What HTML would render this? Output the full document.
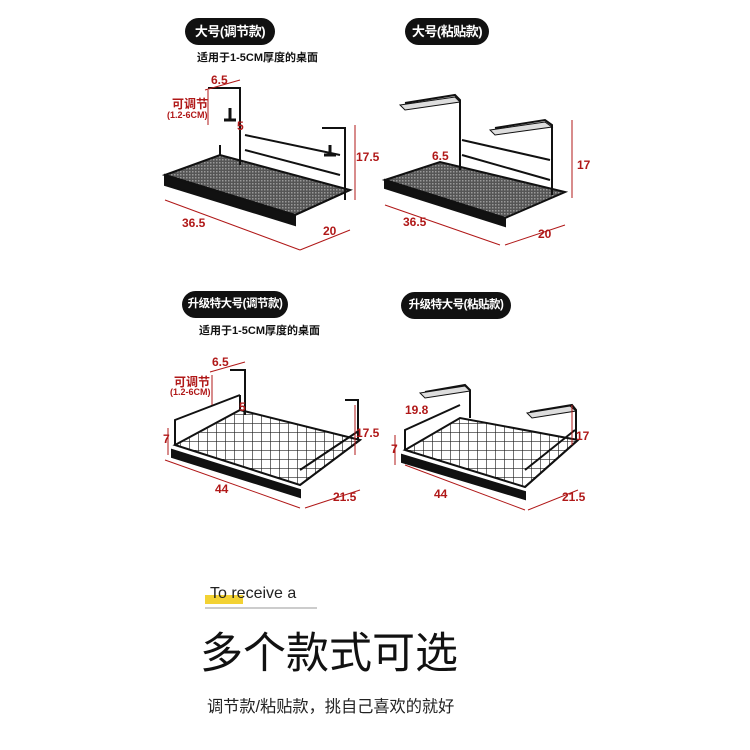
<!DOCTYPE html>
<html><head><meta charset="utf-8"><style>
body{margin:0;background:#fff;width:750px;height:750px;position:relative;overflow:hidden;font-family:"Liberation Sans","Noto Sans CJK SC",sans-serif}
.a{position:absolute;white-space:nowrap}
.pill{position:absolute;background:#111;color:#fff;border-radius:14px;font-weight:bold;font-size:13px;text-align:center;line-height:27px;height:27px;white-space:nowrap;letter-spacing:-0.5px}
.r{color:#b01818;font-weight:bold;font-size:12px}
.k{font-size:11px;color:#111;font-weight:bold}
svg{position:absolute;left:0;top:0}
</style></head><body>
<svg width="750" height="750" viewBox="0 0 750 750">
<defs><pattern id="m" width="3" height="3" patternUnits="userSpaceOnUse"><rect width="3" height="3" fill="#555"/><rect width="1.5" height="1.5" fill="#999"/></pattern>
<pattern id="g" width="9" height="9" patternUnits="userSpaceOnUse"><path d="M0 0H9M0 0V9" stroke="#222" stroke-width="1.3" fill="none"/></pattern></defs>
<g stroke="#111" fill="none" stroke-width="2">
<polygon points="165,175 220,155 350,190 295,215" fill="url(#m)"/>
<polygon points="165,175 165,185 295,225 295,215" fill="#111"/>
<line x1="220" y1="155" x2="220" y2="145"/><line x1="295" y1="215" x2="350" y2="190"/>
<path d="M208,88 H240 V165 M322,128 H345 V200 M245,135 L340,155 M245,150 L340,175"/>
<path d="M230,108 V120 M224,120h12 M330,145v10 M324,155h12" stroke-width="3"/>
<polygon points="385,180 440,162 565,192 505,218" fill="url(#m)"/>
<polygon points="385,180 385,188 505,226 505,218" fill="#111"/>
<path d="M405,103 L455,95 L460,100 V170 M495,128 L545,120 L552,125 V195 M462,140 L550,160 M462,155 L550,180"/>
<polygon points="400,105 455,97 460,102 405,110" fill="#ddd" stroke-width="1"/>
<polygon points="490,130 545,122 552,127 495,135" fill="#ddd" stroke-width="1"/>
<polygon points="175,445 240,410 360,440 300,485" fill="url(#g)"/>
<polygon points="172,450 300,490 300,497 172,457" fill="#111"/>
<path d="M175,445 V420 L240,395 M300,485 L360,440 M300,470 L360,430 M240,410 V395"/>
<path d="M230,370 H245 V415 M345,400 H358 V440"/>
<polygon points="405,450 460,418 578,440 525,487" fill="url(#g)"/>
<polygon points="402,455 525,492 525,499 402,462" fill="#111"/>
<path d="M405,450 V430 L460,405 M525,487 L578,440 M525,470 L575,430"/>
<path d="M425,392 L465,385 L470,390 V418 M530,412 L572,405 L576,410 V440"/>
<polygon points="420,393 465,386 470,391 425,398" fill="#ddd" stroke-width="1"/>
<polygon points="527,413 570,406 576,411 532,418" fill="#ddd" stroke-width="1"/>
</g>
<g stroke="#b01818" stroke-width="1" fill="none">
<path d="M165,200 L300,250 M300,250 L350,230 M355,125 V200 M205,90 L240,80 M208,90 V125"/>
<path d="M385,205 L500,245 M505,245 L565,225 M572,120 V198"/>
<path d="M165,460 L300,508 M305,508 L360,490 M355,405 V455 M168,428 V455 M210,372 L245,362 M212,375 V405"/>
<path d="M395,435 V465 M405,465 L525,510 M528,510 L578,490 M572,405 V445"/>
</g>
<rect x="205" y="595" width="38" height="9" fill="#f3d233"/>
<line x1="205" y1="608" x2="317" y2="608" stroke="#999" stroke-width="1"/>
</svg>
<div class="pill" style="left:185px;top:18px;width:90px">大号(调节款)</div>
<div class="a k" style="left:197px;top:49px">适用于1-5CM厚度的桌面</div>
<div class="pill" style="left:405px;top:18px;width:84px">大号(粘贴款)</div>
<div class="pill" style="left:182px;top:291px;width:106px;font-size:11.5px">升级特大号(调节款)</div>
<div class="a k" style="left:199px;top:322px">适用于1-5CM厚度的桌面</div>
<div class="pill" style="left:401px;top:292px;width:110px;font-size:11.5px">升级特大号(粘贴款)</div>
<div class="a r" style="left:211px;top:73px">6.5</div>
<div class="a r" style="left:172px;top:95px">可调节</div>
<div class="a r" style="left:167px;top:110px;font-size:9px">(1.2-6CM)</div>
<div class="a r" style="left:237px;top:119px">5</div>
<div class="a r" style="left:356px;top:150px">17.5</div>
<div class="a r" style="left:182px;top:216px">36.5</div>
<div class="a r" style="left:323px;top:224px">20</div>
<div class="a r" style="left:432px;top:149px">6.5</div>
<div class="a r" style="left:577px;top:158px">17</div>
<div class="a r" style="left:403px;top:215px">36.5</div>
<div class="a r" style="left:538px;top:227px">20</div>
<div class="a r" style="left:212px;top:355px">6.5</div>
<div class="a r" style="left:174px;top:373px">可调节</div>
<div class="a r" style="left:170px;top:387px;font-size:9px">(1.2-6CM)</div>
<div class="a r" style="left:239px;top:400px">5</div>
<div class="a r" style="left:163px;top:432px">7</div>
<div class="a r" style="left:356px;top:426px">17.5</div>
<div class="a r" style="left:215px;top:482px">44</div>
<div class="a r" style="left:333px;top:490px">21.5</div>
<div class="a r" style="left:405px;top:403px">19.8</div>
<div class="a r" style="left:391px;top:442px">7</div>
<div class="a r" style="left:576px;top:429px">17</div>
<div class="a r" style="left:434px;top:487px">44</div>
<div class="a r" style="left:562px;top:490px">21.5</div>
<div class="a" style="left:210px;top:585px;font-size:16px;color:#222">To receive a</div>
<div class="a" style="left:200px;top:619px;font-size:43px;color:#111">多个款式可选</div>
<div class="a" style="left:207px;top:693px;font-size:16.2px;color:#222">调节款/粘贴款，挑自己喜欢的就好</div>
</body></html>
